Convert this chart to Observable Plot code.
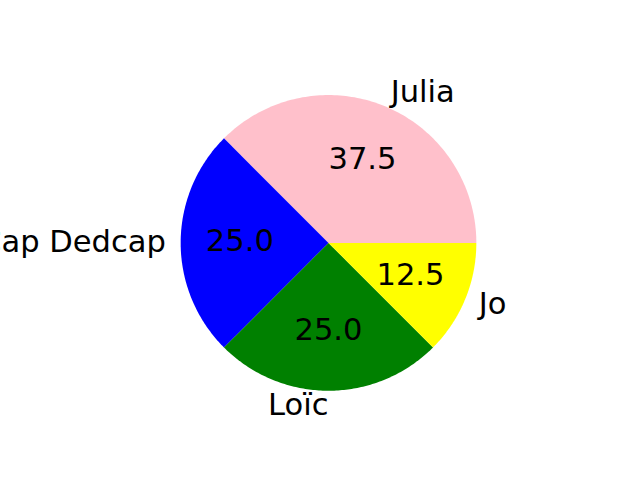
<!DOCTYPE html>
<html><head><meta charset="utf-8">
<script src="https://cdn.jsdelivr.net/npm/d3@7"></script>
<script src="https://cdn.jsdelivr.net/npm/@observablehq/plot@0.6"></script>
<style>body{margin:0;background:#fff}</style>
</head><body><div id="chart"></div>
<script>
const labels = ["Julia", "Cap Dedcap", "Loïc", "Jo"];
const values = [37.5, 25.0, 25.0, 12.5];
const colors = ["pink", "blue", "green", "yellow"];

const total = d3.sum(values);
const slices = [];
let acc = 0;
values.forEach((v, i) => {
  const a0 = acc / total * 2 * Math.PI;
  acc += v;
  const a1 = acc / total * 2 * Math.PI;
  slices.push({label: labels[i], value: v, a0, a1, mid: (a0 + a1) / 2});
});

const poly = [];
for (const s of slices) {
  poly.push({name: s.label, x: 0, y: 0});
  const n = 120;
  for (let k = 0; k <= n; k++) {
    const a = s.a0 + (s.a1 - s.a0) * k / n;
    poly.push({name: s.label, x: Math.cos(a), y: Math.sin(a)});
  }
  poly.push({name: s.label, x: 0, y: 0});
}

const lab = slices.map(s => ({
  label: s.label,
  x: 1.1 * Math.cos(s.mid), y: 1.1 * Math.sin(s.mid),
  px: 0.6 * Math.cos(s.mid), py: 0.6 * Math.sin(s.mid),
  pct: s.value.toFixed(1),
  left: Math.cos(s.mid) > 1e-9
}));

const font = "DejaVu Sans";
const fs = 30.56;
const chart = Plot.plot({
  width: 640, height: 480,
  marginLeft: 143.2, marginRight: 127.2, marginTop: 57.6, marginBottom: 52.8,
  x: {domain: [-1.25, 1.25], axis: null},
  y: {domain: [-1.25, 1.25], axis: null},
  color: {domain: labels, range: colors},
  style: {fontFamily: font, overflow: "visible"},
  marks: [
    Plot.line(poly, {x: "x", y: "y", z: "name", fill: "name", stroke: null, curve: "linear"}),
    Plot.text(lab.filter(d => d.left), {x: "x", y: "y", text: "label", textAnchor: "start", lineAnchor: "middle", fontSize: fs, fill: "black", dy: -0.5}),
    Plot.text(lab.filter(d => !d.left), {x: "x", y: "y", text: "label", textAnchor: "end", lineAnchor: "middle", fontSize: fs, fill: "black", dy: -0.5}),
    Plot.text(lab, {x: "px", y: "py", text: "pct", textAnchor: "middle", lineAnchor: "middle", fontSize: fs, fill: "black", dy: -1.5})
  ]
});
document.getElementById("chart").appendChild(chart);
</script>
</body></html>
